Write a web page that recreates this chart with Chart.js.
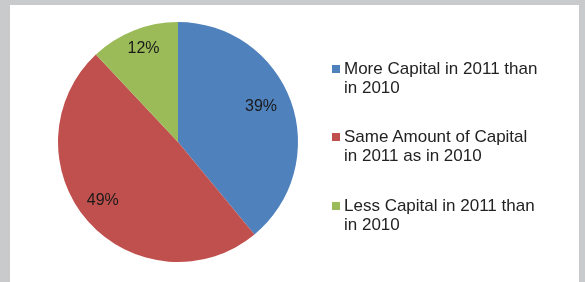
<!DOCTYPE html>
<html>
<head>
<meta charset="utf-8">
<script src="https://cdn.jsdelivr.net/npm/chart.js@4"></script>
<style>
  body { margin: 0; background: #c9cacc; width: 585px; height: 282px; overflow: hidden; position: relative; }
  #panel { position: absolute; left: 10px; top: 5px; width: 569px; height: 277px; background: #fff; }
  #wrap { position: absolute; left: 0; top: 0; width: 585px; height: 282px; }
  #legend { position: absolute; left: 332px; top: 0; font-family: "Liberation Sans", Arial, sans-serif; font-size: 17px; color: #222; }
  .item { position: absolute; left: 0; white-space: pre; line-height: 19px; }
  .box { position: absolute; left: 0; top: 6px; width: 8px; height: 8px; }
  .txt { position: absolute; left: 12px; top: 0; }
</style>
</head>
<body>
<div id="panel"></div>
<div id="wrap"><canvas id="miGrafico" width="585" height="282"></canvas></div>
<div id="legend"></div>
<script>
const categorias = [
  ["More Capital in 2011 than", "in 2010"],
  ["Same Amount of Capital", "in 2011 as in 2010"],
  ["Less Capital in 2011 than", "in 2010"],
];
const porcentajes = [39, 49, 12];
const etiquetas = ["39%", "49%", "12%"];
const colores = ["#4f81bd", "#c0504d", "#9bbb59"];

// ajuste fino de las etiquetas dentro de cada sector (px)
const ajustes = [[-5, -4], [-5, -3], [0, -6]];

const etiquetasPlugin = {
  id: "etiquetas",
  afterDatasetsDraw(chart) {
    const ctx = chart.ctx;
    const arcs = chart.getDatasetMeta(0).data;
    ctx.save();
    ctx.font = '16px "Liberation Sans", Arial, sans-serif';
    ctx.fillStyle = "#1a1a1a";
    ctx.textAlign = "center";
    ctx.textBaseline = "middle";
    arcs.forEach((arc, i) => {
      const p = arc.getProps(["x", "y", "startAngle", "endAngle", "outerRadius"], true);
      const mid = (p.startAngle + p.endAngle) / 2;
      const r = p.outerRadius * 0.78;
      const x = p.x + Math.cos(mid) * r + ajustes[i][0];
      const y = p.y + Math.sin(mid) * r + ajustes[i][1];
      ctx.fillText(etiquetas[i], x, y);
    });
    ctx.restore();
  },
};

function createLegend() {
  const legend = document.getElementById("legend");
  const tops = [59, 127, 196];
  categorias.forEach((lineas, i) => {
    const item = document.createElement("div");
    item.className = "item";
    item.style.top = tops[i] + "px";
    const box = document.createElement("div");
    box.className = "box";
    box.style.background = colores[i];
    const txt = document.createElement("div");
    txt.className = "txt";
    txt.innerHTML = lineas.join("<br>");
    item.appendChild(box);
    item.appendChild(txt);
    legend.appendChild(item);
  });
}

function createChart() {
  const ctx = document.getElementById("miGrafico").getContext("2d");
  new Chart(ctx, {
    type: "pie",
    data: {
      labels: categorias.map(l => l.join(" ")),
      datasets: [
        {
          data: porcentajes,
          backgroundColor: colores,
          borderWidth: 0,
        },
      ],
    },
    options: {
      responsive: false,
      animation: false,
      layout: {
        padding: { left: 58, top: 22, right: 287, bottom: 20 },
      },
      plugins: {
        legend: { display: false },
        tooltip: { enabled: false },
      },
    },
    plugins: [etiquetasPlugin],
  });
}

createLegend();
createChart();
</script>
</body>
</html>
